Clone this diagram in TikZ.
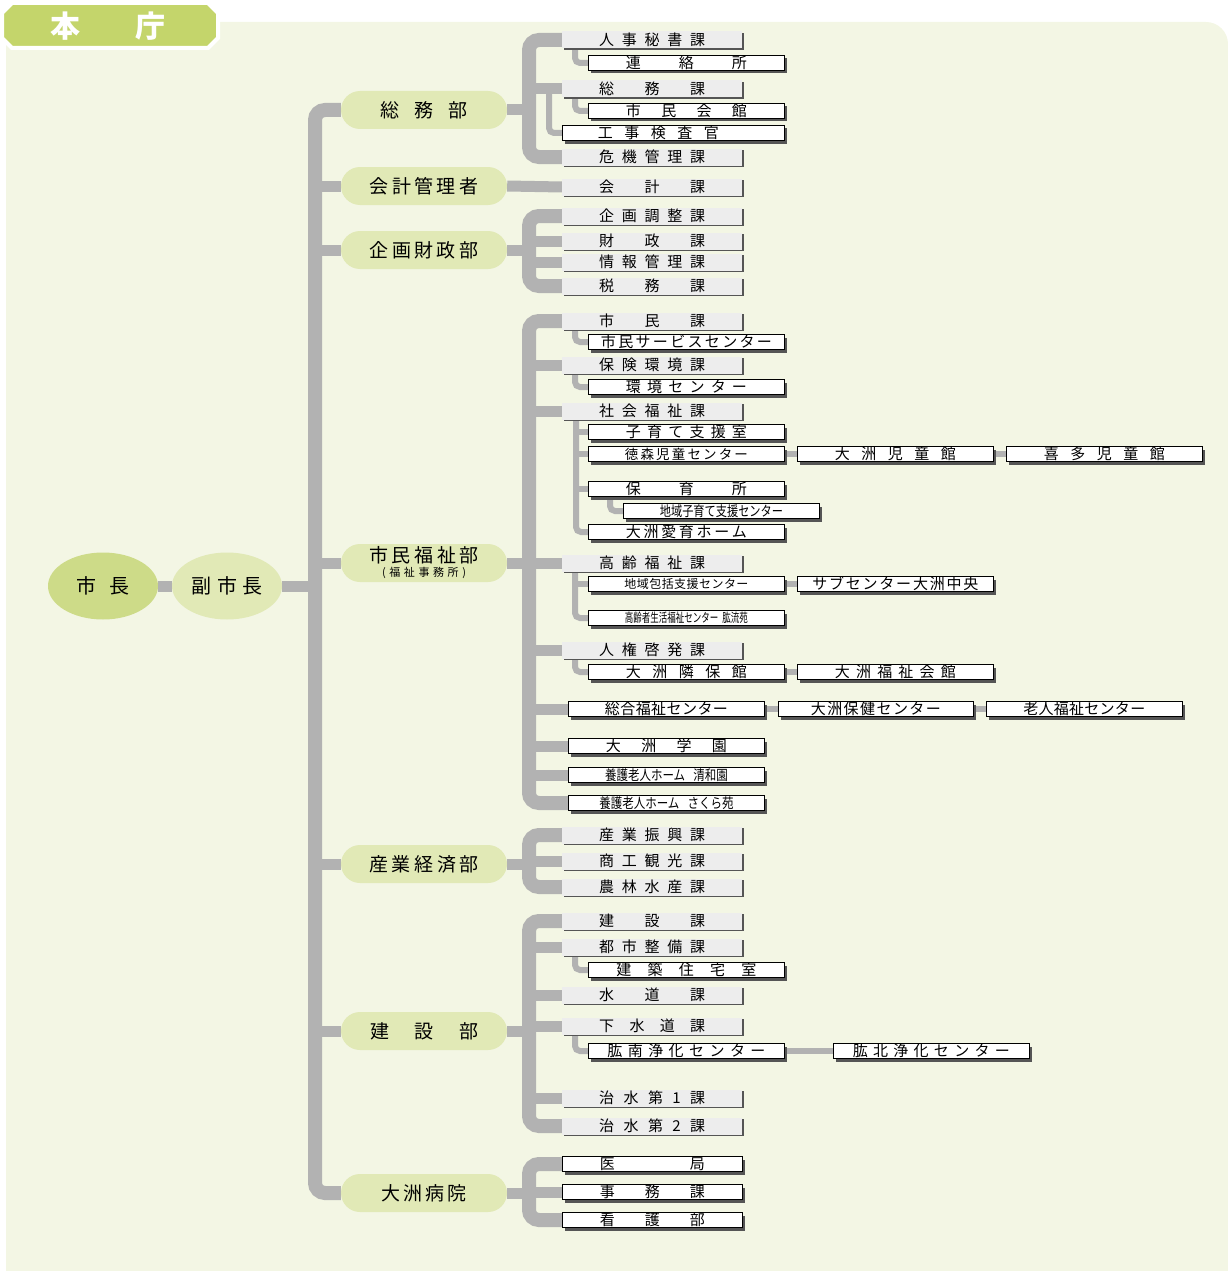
\documentclass[tikz,border=0pt]{standalone}
\usepackage{fontspec}
\newfontfamily\jpfont{Noto Sans CJK JP}
\usetikzlibrary{positioning,shapes.geometric,shadows,backgrounds}

\definecolor{bgcream}{HTML}{F3F6E4}
\definecolor{tabgreen}{HTML}{C4D56B}
\definecolor{mayorgreen}{HTML}{CDDB88}
\definecolor{bupale}{HTML}{E1E9B6}
\definecolor{linegray}{HTML}{B2B2B2}
\definecolor{kafill}{HTML}{EDEDED}
\definecolor{shade}{HTML}{555555}

\newcommand{\fs}[1]{\fontsize{#1}{#1}\selectfont}
\makeatletter
\newcommand{\spr}[2]{\makebox[#1][s]{\let\spr@sep\relax\@tfor\spr@c:=#2\do{\spr@sep\spr@c\let\spr@sep\hfill}}}
\makeatother
\newcommand{\katext}[1]{\spr{106pt}{#1}}
\newcommand{\oftext}[1]{\spr{121pt}{#1}}

\tikzset{
  chief/.style={
      ellipse,
      inner sep=0pt,
      minimum width=110pt,
      minimum height=67pt,
      font=\jpfont\fs{20},
  },
  bu/.style={
      rectangle,
      rounded corners=19pt,
      fill=bupale,
      minimum width=166pt,
      minimum height=38pt,
      inner sep=0pt,
      font=\jpfont\fs{19},
  },
  ka/.style={
      fill=kafill,
      anchor=west,
      minimum width=180pt,
      minimum height=17pt,
      inner sep=0pt,
      font=\jpfont\fs{15},
      drop shadow={shadow xshift=1.5pt, shadow yshift=-1.5pt, fill=shade, opacity=1},
  },
  office/.style={
      draw=black,
      line width=0.9pt,
      fill=white,
      anchor=west,
      minimum width=196pt,
      minimum height=15pt,
      inner sep=0pt,
      font=\jpfont\fs{15},
      drop shadow={shadow xshift=3pt, shadow yshift=-3pt, fill=shade, opacity=1},
  },
  trunk/.style={
      draw=linegray,
      line width=14pt,
      rounded corners=10pt,
  },
  branch/.style={
      draw=linegray,
      line width=11pt,
  },
  twig/.style={
      draw=linegray,
      line width=6pt,
      rounded corners=5pt,
  },
}

\begin{document}
\begin{tikzpicture}[x=1pt, y=-1pt]
  \useasboundingbox (0,0) rectangle (1228,1271);
  \begin{scope}[on background layer]
    \fill[bgcream, rounded corners=22pt] (6,22) rectangle (1228,1300);
  \end{scope}

  % title tab
  \filldraw[fill=tabgreen, draw=white, line width=4pt]
    (2,13) -- (12,3) -- (208,3) -- (218,13) -- (218,38) -- (208,48) -- (12,48) -- (2,38) -- cycle;
  \node[font=\jpfont\bfseries\fs{30}, text=white] (title) at (108,26) {\spr{115pt}{本庁}};

  % mayor
  \node[chief, fill=mayorgreen] (shicho) at (103,586) {\spr{53pt}{市長}};
  \node[chief, fill=bupale] (fuku) at (227,586) {\spr{71pt}{副市長}};
  \coordinate (spine) at (315,586);

  % departments
  \node[bu] (somu) at (424,110) {\spr{87pt}{総務部}};
  \node[bu] (kaikei) at (424,186) {\spr{109pt}{会計管理者}};
  \node[bu] (kikaku) at (424,250) {\spr{109pt}{企画財政部}};
  \node[bu, align=center] (fukushi) at (424,563) {\spr{110pt}{市民福祉部}\\[-5pt]{\fs{11}\spr{84pt}{(福祉事務所)}}};
  \node[bu] (sangyo) at (424,864) {\spr{110pt}{産業経済部}};
  \node[bu] (kensetsu) at (424,1031) {\spr{108pt}{建設部}};
  \node[bu] (byoin) at (424,1193) {\spr{86pt}{大洲病院}};

  % somu
  \node[ka] (jinji) at (562,40) {\katext{人事秘書課}};
  \node[office] (renraku) at (588,63) {\oftext{連絡所}};
  \node[ka] (somuka) at (562,89) {\katext{総務課}};
  \node[office] (kaikan) at (588,111) {\oftext{市民会館}};
  \node[office, minimum width=222pt] (kouji) at (562,133) {\oftext{工事検査官}\hspace*{30pt}};
  \node[ka] (kiki) at (562,157) {\katext{危機管理課}};
  \coordinate (somuspine) at (529,110);

  % kaikei
  \node[ka] (kaikeika) at (562,187) {\katext{会計課}};

  % kikaku
  \node[ka] (chosei) at (562,216) {\katext{企画調整課}};
  \node[ka] (zaisei) at (562,241) {\katext{財政課}};
  \node[ka] (joho) at (562,262) {\katext{情報管理課}};
  \node[ka] (zeimu) at (562,286) {\katext{税務課}};
  \coordinate (kikakuspine) at (529,250);

  % fukushi
  \node[ka] (shimin) at (562,321) {\katext{市民課}};
  \node[office] (service) at (588,342) {\spr{171pt}{市民サービスセンター}};
  \node[ka] (hoken) at (562,365) {\katext{保険環境課}};
  \node[office] (kankyo) at (588,387) {\oftext{環境センター}};
  \node[ka] (shakai) at (562,411) {\katext{社会福祉課}};
  \node[office] (kosodate) at (588,432) {\oftext{子育て支援室}};
  \node[office, font=\jpfont\fs{13.5}] (tokumori) at (588,454) {\spr{123pt}{徳森児童センター}};
  \node[office, right=12pt of tokumori] (ozujido) {\oftext{大洲児童館}};
  \node[office, right=12pt of ozujido] (kitajido) {\oftext{喜多児童館}};
  \node[office] (hoiku) at (588,489) {\oftext{保育所}};
  \node[office] (shienc) at (623,511) {\scalebox{0.8}[1]{\fs{14}地域子育て支援センター}};
  \node[office] (aiiku) at (588,532) {\oftext{大洲愛育ホーム}};
  \node[ka] (korei) at (562,563) {\katext{高齢福祉課}};
  \node[office, font=\jpfont\fs{12}] (hokatsu) at (588,584) {\spr{124pt}{地域包括支援センター}};
  \node[office, right=12pt of hokatsu] (subc) {\spr{166pt}{サブセンター大洲中央}};
  \node[office] (koryuen) at (588,618) {\scalebox{0.68}[1]{\fs{12.5}高齢者生活福祉センター\hspace{6pt}肱流苑}};
  \node[ka] (jinken) at (562,650) {\katext{人権啓発課}};
  \node[office] (rinpo) at (588,672) {\oftext{大洲隣保館}};
  \node[office, right=12pt of rinpo] (fkaikan) {\oftext{大洲福祉会館}};
  \node[office] (sogo) at (568,709) {\spr{123pt}{総合福祉センター}};
  \node[office, right=13pt of sogo, minimum width=195pt] (hokenc) {\spr{130pt}{大洲保健センター}};
  \node[office, right=12pt of hokenc] (rojin) {\spr{122pt}{老人福祉センター}};
  \node[office] (gakuen) at (568,746) {\oftext{大洲学園}};
  \node[office] (seiwaen) at (568,775) {\scalebox{0.82}[1]{\fs{14}養護老人ホーム\hspace{10pt}清和園}};
  \node[office] (sakura) at (568,803) {\scalebox{0.82}[1]{\fs{14}養護老人ホーム\hspace{10pt}さくら苑}};
  \coordinate (fukushispine) at (529,563);

  % sangyo
  \node[ka] (shinko) at (562,835) {\katext{産業振興課}};
  \node[ka] (kanko) at (562,861) {\katext{商工観光課}};
  \node[ka] (norin) at (562,887) {\katext{農林水産課}};
  \coordinate (sangyospine) at (529,864);

  % kensetsu
  \node[ka] (kensetsuka) at (562,921) {\katext{建設課}};
  \node[ka] (toshi) at (562,947) {\katext{都市整備課}};
  \node[office] (jutaku) at (588,970) {\spr{140pt}{建築住宅室}};
  \node[ka] (suido) at (562,995) {\katext{水道課}};
  \node[ka] (gesui) at (562,1026) {\katext{下水道課}};
  \node[office] (konan) at (588,1051) {\spr{158pt}{肱南浄化センター}};
  \node[office, right=48pt of konan] (kohoku) {\spr{157pt}{肱北浄化センター}};
  \node[ka] (chisui1) at (562,1098) {\katext{治水第1課}};
  \node[ka] (chisui2) at (562,1126) {\katext{治水第2課}};
  \coordinate (kensetsuspine) at (529,1031);

  % byoin
  \node[office, minimum width=180pt] (ikyoku) at (562,1164) {\spr{105pt}{医局}};
  \node[office, minimum width=180pt] (jimu) at (562,1192) {\spr{105pt}{事務課}};
  \node[office, minimum width=180pt] (kango) at (562,1220) {\spr{105pt}{看護部}};
  \coordinate (byoinspine) at (529,1193);

  \begin{scope}[on background layer]
    % main spine
    \draw[branch] (shicho) -- (fuku);
    \draw[branch] (fuku.east) -- (spine);
    \draw[trunk] (somu.west) -| (spine) |- (byoin.west);
    \foreach \n in {kaikei,kikaku,fukushi,sangyo,kensetsu}
      \draw[branch] (spine |- \n.west) -- (\n.west);

    % somu
    \draw[trunk] (jinji.west) -| (somuspine) |- (kiki.west);
    \draw[branch] (somu.east) -- (somuspine);
    \draw[branch] (somuspine |- somuka.west) -- (somuka.west);
    \draw[twig] ([xshift=13pt]jinji.south west) |- (renraku.west);
    \draw[twig] ([xshift=13pt]somuka.south west) |- (kaikan.west);
    \draw[twig] ([xshift=20pt]somuspine |- somuka.west) |- (kouji.west);

    % kaikei
    \draw[branch] (kaikei.east) -- (kaikeika.west);

    % kikaku
    \draw[trunk] (chosei.west) -| (kikakuspine) |- (zeimu.west);
    \draw[branch] (kikaku.east) -- (kikakuspine);
    \foreach \n in {zaisei,joho}
      \draw[branch] (kikakuspine |- \n.west) -- (\n.west);

    % fukushi
    \draw[trunk] (shimin.west) -| (fukushispine) |- (sakura.west);
    \draw[branch] (fukushi.east) -- (fukushispine);
    \foreach \n in {hoken,shakai,korei,jinken,sogo,gakuen,seiwaen}
      \draw[branch] (fukushispine |- \n.west) -- (\n.west);
    \draw[twig] ([xshift=13pt]shimin.south west) |- (service.west);
    \draw[twig] ([xshift=13pt]hoken.south west) |- (kankyo.west);
    \draw[twig] ([xshift=14pt]shakai.south west) |- (aiiku.west);
    \foreach \n in {kosodate,tokumori,hoiku}
      \draw[twig] ([xshift=14pt]shakai.south west |- \n.west) -- (\n.west);
    \draw[twig] ([xshift=22pt]hoiku.south west) |- (shienc.west);
    \draw[twig] (tokumori.east) -- (ozujido.west);
    \draw[twig] (ozujido.east) -- (kitajido.west);
    \draw[twig] ([xshift=13pt]korei.south west) |- (koryuen.west);
    \draw[twig] ([xshift=13pt]korei.south west |- hokatsu.west) -- (hokatsu.west);
    \draw[twig] (hokatsu.east) -- (subc.west);
    \draw[twig] ([xshift=13pt]jinken.south west) |- (rinpo.west);
    \draw[twig] (rinpo.east) -- (fkaikan.west);
    \draw[twig] (sogo.east) -- (hokenc.west);
    \draw[twig] (hokenc.east) -- (rojin.west);

    % sangyo
    \draw[trunk] (shinko.west) -| (sangyospine) |- (norin.west);
    \draw[branch] (sangyo.east) -- (sangyospine);
    \draw[branch] (sangyospine |- kanko.west) -- (kanko.west);

    % kensetsu
    \draw[trunk] (kensetsuka.west) -| (kensetsuspine) |- (chisui2.west);
    \draw[branch] (kensetsu.east) -- (kensetsuspine);
    \foreach \n in {toshi,suido,gesui,chisui1}
      \draw[branch] (kensetsuspine |- \n.west) -- (\n.west);
    \draw[twig] ([xshift=13pt]toshi.south west) |- (jutaku.west);
    \draw[twig] ([xshift=13pt]gesui.south west) |- (konan.west);
    \draw[twig] (konan.east) -- (kohoku.west);

    % byoin
    \draw[trunk] (ikyoku.west) -| (byoinspine) |- (kango.west);
    \draw[branch] (byoin.east) -- (byoinspine);
    \draw[branch] (byoinspine |- jimu.west) -- (jimu.west);
  \end{scope}
\end{tikzpicture}
\end{document}
